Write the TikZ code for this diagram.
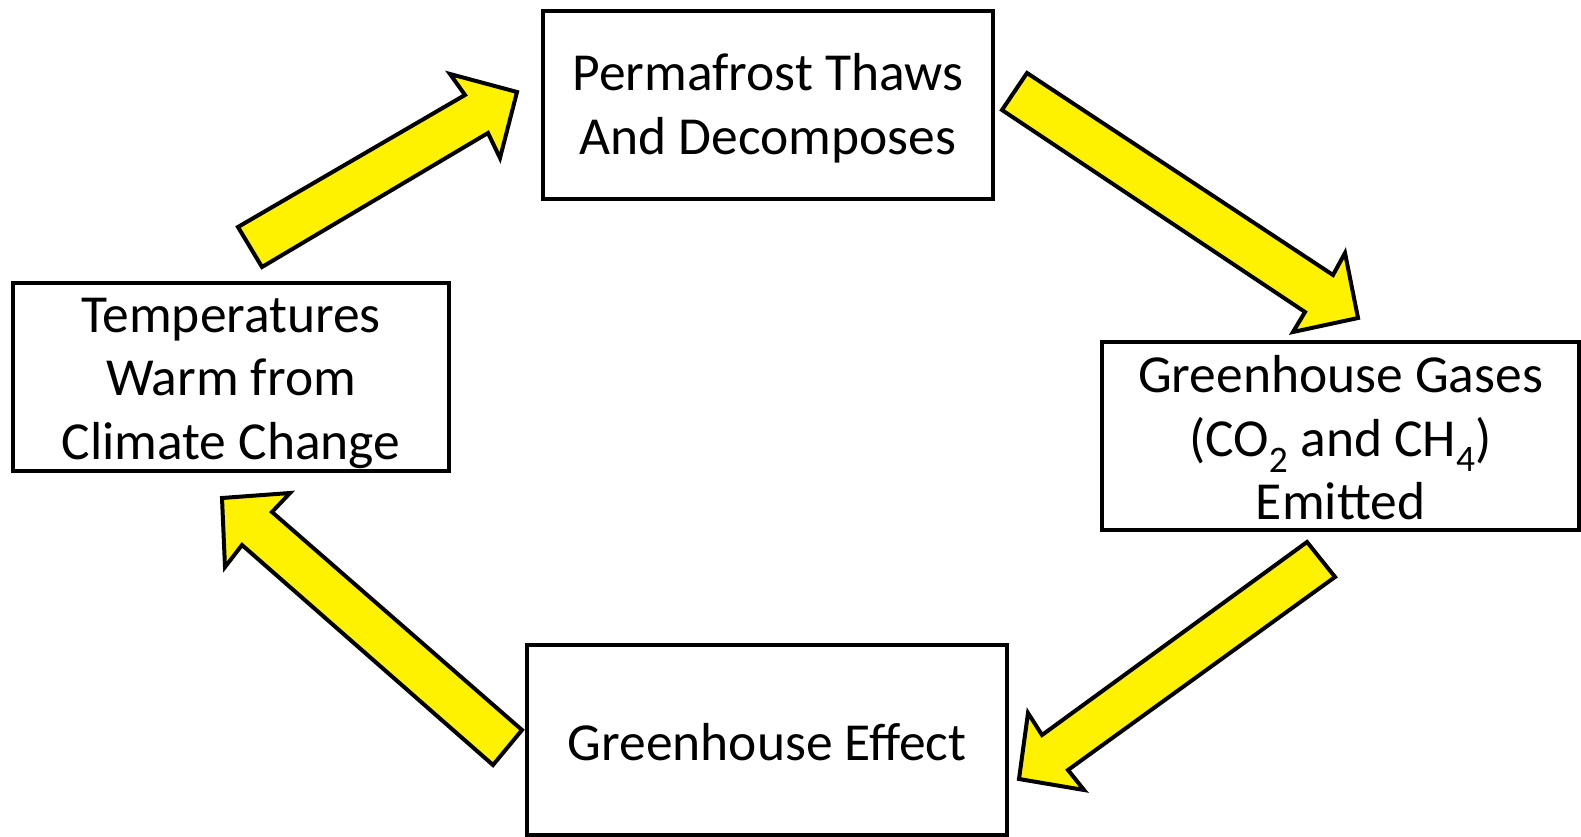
\documentclass[tikz,border=0pt]{standalone}
\usepackage{fontspec}
\setmainfont{Carlito}
\begin{document}
\begin{tikzpicture}[x=1pt,y=-1pt,
  box/.style={draw=black, line width=4pt, fill=white, inner sep=0pt},
  lbl/.style={align=center, inner sep=0pt, font=\fontsize{53.5}{63.5}\selectfont},
  blockarrow/.style={draw=black, fill=yellow, line width=4pt, line join=miter}]
\useasboundingbox (0,0) rectangle (1581,837);
\fill[white] (0,0) rectangle (1581,837);
% boxes
\node[box, minimum width=450pt, minimum height=188pt] (perm) at (768,105) {};
\node[lbl] (permt) at ([yshift=-3pt]perm.center) {Permafrost Thaws\\And Decomposes};
\node[box, minimum width=436pt, minimum height=188pt] (temp) at (231,377) {};
\node[lbl] (tempt) at ([yshift=-6pt]temp.center) {Temperatures\\Warm from\\Climate Change};
\node[box, minimum width=477pt, minimum height=188pt] (ghg) at (1340.5,436) {};
\node[lbl] (ghgt) at ([yshift=-2pt]ghg.center) {Greenhouse Gases\\(CO\textsubscript{2} and CH\textsubscript{4})\\Emitted};
\node[box, minimum width=480pt, minimum height=190pt] (gfx) at (767,740) {};
\node[lbl] (gfxt) at ([yshift=-2pt]gfx.center) {Greenhouse Effect};
% block arrows
\draw[blockarrow] (238,227) -- (465,95) -- (450,74) -- (517,92) -- (500,158) -- (488,133) -- (262,267) -- cycle;
\draw[blockarrow] (1027,73) -- (1333,275) -- (1345,253) -- (1358,318) -- (1293,332) -- (1305,312) -- (1002,110) -- cycle;
\draw[blockarrow] (1307,542) -- (1335,577) -- (1068,770) -- (1084,790) -- (1019,779) -- (1028,713) -- (1042,735) -- cycle;
\draw[blockarrow] (522,730) -- (272,512) -- (290,493) -- (222,498) -- (225,567) -- (242,545) -- (493,765) -- cycle;
\end{tikzpicture}
\end{document}
